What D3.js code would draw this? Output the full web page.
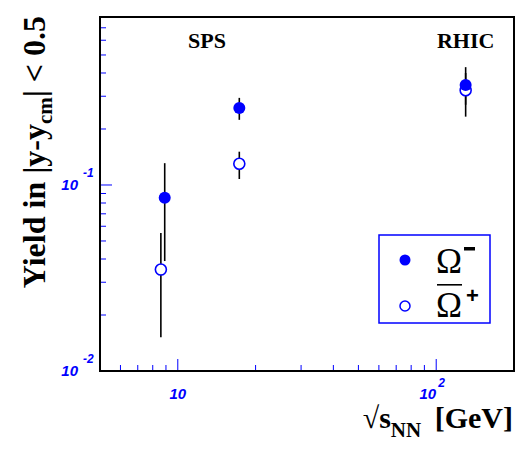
<!DOCTYPE html>
<html><head><meta charset="utf-8">
<script src="https://cdn.jsdelivr.net/npm/d3@7"></script>
<style>body{margin:0;background:#fff}svg{display:block}</style>
</head><body>
<svg id="c" width="523" height="455"></svg>
<script>
// ---- data ----
const energyMinus = [8.9, 17.3, 130];
const energyPlus  = [8.6, 17.3, 130];
const yieldMinus  = [0.0855, 0.259, 0.345];
const lowMinus    = [0.039, 0.224, 0.27];
const highMinus   = [0.131, 0.294, 0.43];
const yieldPlus   = [0.0351, 0.130, 0.323];
const lowPlus     = [0.0152, 0.1077, 0.233];
const highPlus    = [0.0552, 0.151, 0.40];
const xMajor = [10, 100];
const xMajorExp = ["", "2"];
const xMinor = [6,7,8,9,20,30,40,50,60,70,80,90];
const yMajor = [0.01, 0.1];
const yMajorExp = ["-2", "-1"];
const yMinor = [0.02,0.03,0.04,0.05,0.06,0.07,0.08,0.09,0.2,0.3,0.4,0.5,0.6,0.7];
const labels = [{t:"SPS", x:12.0}, {t:"RHIC", x:130}];

const blue = "#0000ff";
const svg = d3.select("#c");
const L=100, R=514, T=17, B=371;
const x = d3.scaleLog().domain([5, 200]).range([L, R]);
const y = d3.scaleLog().domain([0.01, 0.8]).range([B, T]);

// ticks
const g = svg.append("g");
g.selectAll(".xmaj").data(xMajor).join("line")
  .attr("x1", d=>x(d)).attr("x2", d=>x(d)).attr("y1", B).attr("y2", B-12)
  .attr("stroke", blue).attr("stroke-width", 1);
g.selectAll(".xmin").data(xMinor).join("line")
  .attr("x1", d=>x(d)).attr("x2", d=>x(d)).attr("y1", B).attr("y2", B-6)
  .attr("stroke", blue).attr("stroke-width", 1);
g.selectAll(".ymaj").data(yMajor).join("line")
  .attr("y1", d=>y(d)).attr("y2", d=>y(d)).attr("x1", L).attr("x2", L+12)
  .attr("stroke", blue).attr("stroke-width", 1);
g.selectAll(".ymin").data(yMinor).join("line")
  .attr("y1", d=>y(d)).attr("y2", d=>y(d)).attr("x1", L).attr("x2", L+6)
  .attr("stroke", blue).attr("stroke-width", 1);

// frame
svg.append("rect").attr("x", L).attr("y", T).attr("width", R-L).attr("height", B-T)
  .attr("fill", "none").attr("stroke", "#000").attr("stroke-width", 2);

// tick labels
const tf = "'Liberation Sans', Arial, sans-serif";
xMajor.forEach((d,i)=>{
  const t = svg.append("text").attr("font-family", tf).attr("font-weight","bold")
    .attr("font-style","italic").attr("fill", blue).attr("font-size", 15)
    .attr("x", x(d)).attr("y", 399).attr("text-anchor", xMajorExp[i] ? "end" : "middle");
  t.text("10");
  if (xMajorExp[i]) {
    svg.append("text").attr("font-family", tf).attr("font-weight","bold")
      .attr("font-style","italic").attr("fill", blue).attr("font-size", 12)
      .attr("x", x(d)+2).attr("y", 387).text(xMajorExp[i]);
  }
});
yMajor.forEach((d,i)=>{
  svg.append("text").attr("font-family", tf).attr("font-weight","bold")
    .attr("font-style","italic").attr("fill", blue).attr("font-size", 15)
    .attr("x", 78).attr("y", y(d)+5).attr("text-anchor","end").text("10");
  svg.append("text").attr("font-family", tf).attr("font-weight","bold")
    .attr("font-style","italic").attr("fill", blue).attr("font-size", 12)
    .attr("x", 83).attr("y", y(d)-8).text(yMajorExp[i]);
});

// axis titles
const sf = "'Liberation Serif', 'Times New Roman', serif";
const yt = svg.append("text").attr("font-family", sf).attr("font-weight","bold")
  .attr("font-size", 32).attr("text-anchor","end")
  .attr("transform", "translate(45,16) rotate(-90)");
yt.append("tspan").text("Yield in |y-y");
yt.append("tspan").attr("font-size", 21).attr("dy", 7).text("cm");
yt.append("tspan").attr("dy", -7).text("| < 0.5");

const xt = svg.append("text").attr("font-family", sf).attr("font-weight","bold")
  .attr("font-size", 30).attr("text-anchor","end").attr("x", 513).attr("y", 428);
xt.append("tspan").attr("font-weight","normal").text("\u221A");
xt.append("tspan").text("s");
xt.append("tspan").attr("font-size", 21).attr("dy", 9).text("NN");
xt.append("tspan").attr("dy", -9).text("\u2009 [GeV]");

// experiment labels
svg.selectAll(".lab").data(labels).join("text")
  .attr("font-family", sf).attr("font-weight","bold").attr("font-size", 22)
  .attr("text-anchor","middle")
  .attr("x", (d,i)=> i===0 ? 207 : x(d.x)).attr("y", 48).text(d=>d.t);

// error bars
function bars(xs, lo, hi) {
  svg.append("g").selectAll("line").data(xs).join("line")
    .attr("x1", d=>x(d)).attr("x2", d=>x(d))
    .attr("y1", (d,i)=>y(lo[i])).attr("y2", (d,i)=>y(hi[i]))
    .attr("stroke", "#000").attr("stroke-width", 1.6);
}
bars(energyPlus, lowPlus, highPlus);
bars(energyMinus, lowMinus, highMinus);

// markers
svg.append("g").selectAll("circle").data(energyPlus).join("circle")
  .attr("cx", d=>x(d)).attr("cy", (d,i)=>y(yieldPlus[i])).attr("r", 5.5)
  .attr("fill", "#fff").attr("stroke", blue).attr("stroke-width", 1.6);
svg.append("g").selectAll("circle").data(energyMinus).join("circle")
  .attr("cx", d=>x(d)).attr("cy", (d,i)=>y(yieldMinus[i])).attr("r", 6)
  .attr("fill", blue);

// legend
svg.append("rect").attr("x", 379).attr("y", 235).attr("width", 111).attr("height", 88)
  .attr("fill", "#fff").attr("stroke", blue).attr("stroke-width", 1.5);
svg.append("circle").attr("cx", 405).attr("cy", 260).attr("r", 5.5).attr("fill", blue);
svg.append("circle").attr("cx", 405).attr("cy", 306).attr("r", 5).attr("fill", "#fff")
  .attr("stroke", blue).attr("stroke-width", 1.5);
svg.append("text").attr("font-family", sf).attr("font-size", 35).attr("x", 436).attr("y", 273).text("\u03A9");
svg.append("text").attr("font-family", sf).attr("font-size", 35).attr("x", 436).attr("y", 317).text("\u03A9");
svg.append("rect").attr("x", 437).attr("y", 284).attr("width", 25).attr("height", 1.6).attr("fill", "#000");
svg.append("rect").attr("x", 464).attr("y", 247).attr("width", 11).attr("height", 3.5).attr("fill", "#000");
svg.append("text").attr("font-family", tf).attr("font-weight","bold").attr("font-size", 22)
  .attr("x", 466).attr("y", 303).text("+");
</script>
</body></html>
